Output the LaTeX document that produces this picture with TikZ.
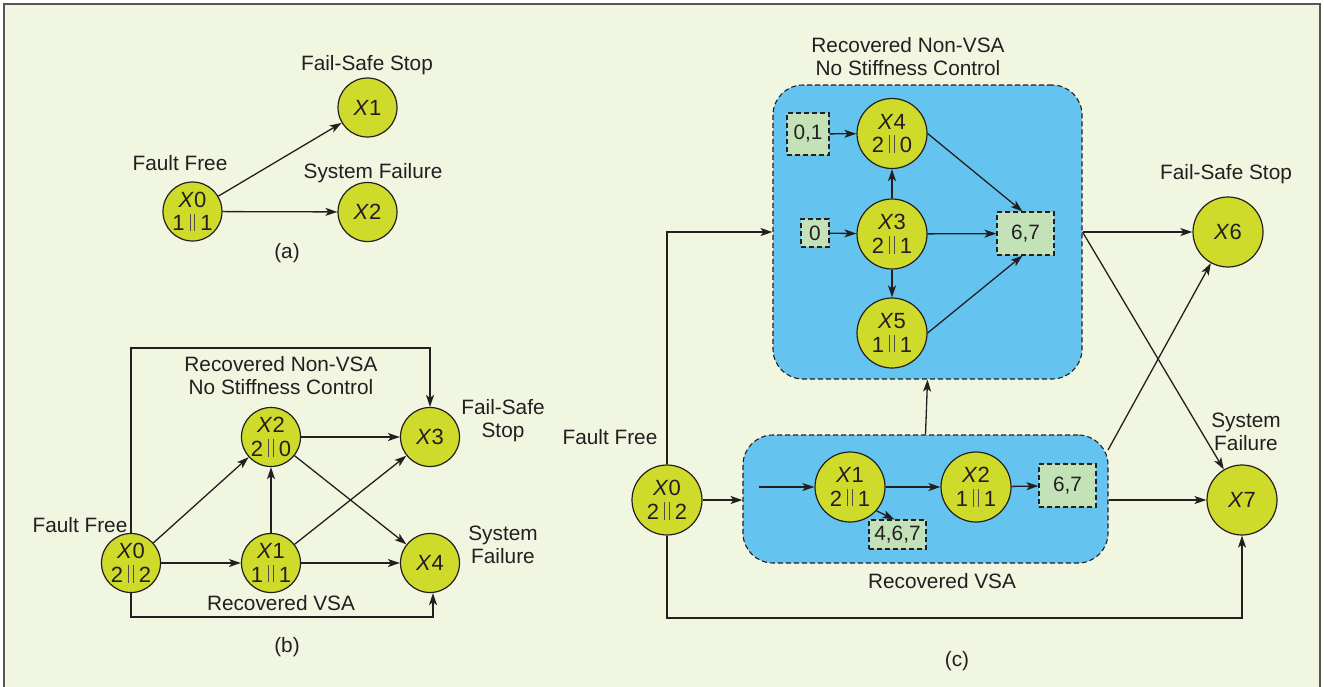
\documentclass[tikz,border=0pt]{standalone}
\usepackage{fontspec}
\setmainfont{Liberation Sans}
\usetikzlibrary{arrows.meta,calc}
\definecolor{bg}{HTML}{F1F6E1}
\definecolor{circ}{HTML}{CEDB2A}
\definecolor{blu}{HTML}{65C4EF}
\definecolor{boxg}{HTML}{C4E2B8}
\definecolor{tx}{HTML}{231F20}
\definecolor{frm}{HTML}{555555}
\newcommand{\pll}{\kern5pt\textcolor{tx!80}{\rule[-0.3pt]{1.2pt}{17.5pt}}\kern3.2pt\textcolor{tx!80}{\rule[-0.3pt]{1.2pt}{17.5pt}}\kern5pt}
\newcommand{\stt}[2]{\textit{X}#1\\#2}
\tikzset{
 every node/.style={font=\fontsize{20.8}{23}\selectfont, text=tx},
 sa/.style={circle, draw=tx, fill=circ, line width=1.2pt, inner sep=0pt, minimum size=59pt, align=center, font=\fontsize{22}{23.5}\selectfont},
 sc/.style={sa, minimum size=70pt},
 lbl/.style={align=center, inner sep=0pt},
 arr/.style={draw=tx, line width=1.3pt, -{Stealth[length=12pt,width=8pt,inset=3pt]}},
 sbox/.style={draw=tx, fill=boxg, dash pattern=on 5pt off 3pt, line width=1.1pt, inner sep=0pt},
 bigbox/.style={draw=tx, fill=blu, dash pattern=on 5pt off 3pt, line width=1.1pt, rounded corners=30pt, inner sep=0pt},
}
\begin{document}
\begin{tikzpicture}[x=1pt,y=-1pt]
\useasboundingbox (0,0) rectangle (1324,686);
\fill[bg] (4,4) rectangle (1320,690);
\draw[frm, line width=2pt] (4,690) -- (4,4) -- (1320,4) -- (1320,690);

% ---------- (a)
\node[sa] (a0) at (192.5,211.5) {\stt{0}{1\pll 1}};
\node[sa] (a1) at (367.5,107.5) {\textit{X}1};
\node[sa] (a2) at (367.5,212) {\textit{X}2};
\node[lbl] (la0) at (180,163) {Fault Free};
\node[lbl] (la1) at (367,65) {Fail-Safe Stop};
\node[lbl] (la2) at (373,173) {System Failure};
\node[lbl] (lacap) at (287,253) {(a)};
\draw[arr] (a0) -- (a1);
\draw[arr] (a0) -- (a2);

% ---------- (b)
\node[sa] (b0) at (131,563) {\stt{0}{2\pll 2}};
\node[sa] (b1) at (271,563) {\stt{1}{1\pll 1}};
\node[sa] (b2) at (271,437) {\stt{2}{2\pll 0}};
\node[sa] (b3) at (430,437) {\textit{X}3};
\node[sa] (b4) at (430,563) {\textit{X}4};
\node[lbl] (lb1) at (281,376) {Recovered Non-VSA\\No Stiffness Control};
\node[lbl] (lb2) at (503,421) {Fail-Safe\\Stop};
\node[lbl] (lb3) at (80,525) {Fault Free};
\node[lbl] (lb4) at (503,545) {System\\Failure};
\node[lbl] (lb5) at (281,603) {Recovered VSA};
\node[lbl] (lbcap) at (287,647) {(b)};
\coordinate (btop) at (0,348);
\coordinate (bbot) at (433,617);
\draw[arr] (b0) -- (b2);
\draw[arr] (b0) -- (b1);
\draw[arr] (b1) -- (b2);
\draw[arr] (b1) -- (b3);
\draw[arr] (b1) -- (b4);
\draw[arr] (b2) -- (b3);
\draw[arr] (b2) -- (b4);
\draw[arr] (b0.north) -- (b0.north |- btop) -| (b3.north);
\draw[arr] (b0.south) |- (bbot) -- (bbot |- b4.south);

% ---------- (c)
\node[bigbox, minimum width=309pt, minimum height=294pt] (top) at (927.5,232) {};
\node[bigbox, minimum width=365pt, minimum height=128pt] (bot) at (925.5,499) {};

\node[sc] (c0) at (667,500) {\stt{0}{2\pll 2}};
\node[sc] (c1) at (850,487) {\stt{1}{2\pll 1}};
\node[sc] (c2) at (976,487) {\stt{2}{1\pll 1}};
\node[sc] (c3) at (892,234) {\stt{3}{2\pll 1}};
\node[sc] (c4) at (892,133.5) {\stt{4}{2\pll 0}};
\node[sc] (c5) at (892,333) {\stt{5}{1\pll 1}};
\node[sc] (c6) at (1228,232) {\textit{X}6};
\node[sc] (c7) at (1242,500) {\textit{X}7};

\node[sbox, minimum width=42pt, minimum height=42pt] (t01) at (808,134) {0,1};
\node[sbox, minimum width=28pt, minimum height=28pt] (t0) at (815,233) {0};
\node[sbox, minimum width=57pt, minimum height=43pt] (t67) at (1025.5,233.5) {6,7};
\node[sbox, minimum width=57pt, minimum height=43pt] (b67) at (1067.5,485.5) {6,7};
\node[sbox, minimum width=57pt, minimum height=29pt] (b467) at (897.5,534.5) {4,6,7};

\node[lbl] (lc1) at (908,57) {Recovered Non-VSA\\No Stiffness Control};
\node[lbl] (lc2) at (1226,174) {Fail-Safe Stop};
\node[lbl] (lc3) at (1246,432) {System\\Failure};
\node[lbl] (lc4) at (610,437) {Fault Free};
\node[lbl] (lc5) at (942,581) {Recovered VSA};
\node[lbl] (lccap) at (957,661) {(c)};

\coordinate (bin) at (759,487);
\coordinate (cbot) at (0,618);
\coordinate (botne) at (1108,450);

% inside top box
\draw[arr] (t01) -- (c4);
\draw[arr] (t0) -- (c3);
\draw[arr] (c3) -- (c4);
\draw[arr] (c3) -- (c5);
\draw[arr] (c3) -- (t67);
\draw[arr] (c4.east) -- ($(t67.north)+(-3,0)$);
\draw[arr] (c5.east) -- ($(t67.south)+(-3,0)$);
% inside bottom box
\draw[arr] (bin) -- (c1);
\draw[arr] (c1) -- (c2);
\draw[arr] (c2) -- (b67);
\draw[arr] (c1.-42) -- ($(b467.north)+(-3,0)$);
% between
\draw[arr] (c0.north) |- (top.west);
\draw[arr] (c0) -- (c0 -| bot.west);
\draw[arr] (bot.north) -- (top.south);
\draw[arr] (top.east) -- (c6);
\draw[arr] (top.east) -- (c7);
\draw[arr] (botne) -- (c6);
\draw[arr] (bot.east |- c7) -- (c7);
\draw[arr] (c0.south) |- (c7 |- cbot) -- (c7.south);
\end{tikzpicture}
\end{document}
